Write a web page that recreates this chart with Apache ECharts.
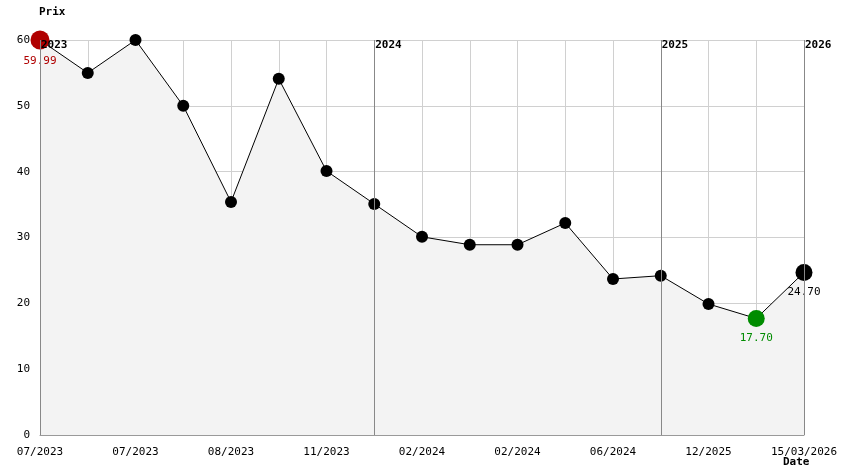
<!DOCTYPE html>
<html>
<head>
<meta charset="utf-8">
<script src="https://cdn.jsdelivr.net/npm/echarts@6/dist/echarts.min.js"></script>
<style>html,body{margin:0;padding:0;background:#fff}#chart{width:844px;height:474px}</style>
</head>
<body>
<div id="chart"></div>
<script>
const dates = ['07/2023', '', '07/2023', '', '08/2023', '', '11/2023', '', '02/2024', '', '02/2024', '', '06/2024', '', '12/2025', '', '15/03/2026']
const prices = [59.99, 55, 60, 50, 35.4, 54.1, 40.1, 35.1, 30.1, 28.9, 28.9, 32.2, 23.7, 24.2, 19.9, 17.7, 24.7]
const yearMarks = [{ idx: 0, label: '2023' }, { idx: 7, label: '2024' }, { idx: 13, label: '2025' }, { idx: 16, label: '2026' }]
const yTicks = [0, 10, 20, 30, 40, 50, 60]

const font = 'DejaVu Sans Mono'
const minIdx = 15, maxIdx = 0, lastIdx = prices.length - 1

const data = prices.map((v, i) => {
    if (i === maxIdx) return { value: v, symbolSize: 19, itemStyle: { color: '#b00000' },
        label: { show: true, position: 'bottom', formatter: '59.99', color: '#b00000' } }
    if (i === minIdx) return { value: v, symbolSize: 17, itemStyle: { color: '#008c00' },
        label: { show: true, position: 'bottom', formatter: '17.70', color: '#008c00' } }
    if (i === lastIdx) return { value: v, symbolSize: 17,
        label: { show: true, position: 'bottom', formatter: '24.70', color: '#000' } }
    return v
})

const chart = echarts.init(document.getElementById('chart'))
chart.setOption({
    animation: false,
    textStyle: { fontFamily: font },
    grid: { left: 40, right: 40, top: 40, bottom: 39 },
    xAxis: {
        type: 'category', data: dates, boundaryGap: false,
        axisLine: { lineStyle: { color: '#999' } },
        axisTick: { show: false },
        axisLabel: { interval: 0, color: '#000', fontSize: 11, fontFamily: font, margin: 12 },
        splitLine: { show: true, interval: 0, lineStyle: { color: '#d0d0d0' } }
    },
    yAxis: {
        type: 'value', min: yTicks[0], max: yTicks[yTicks.length - 1], interval: 10,
        axisLine: { show: true, lineStyle: { color: '#999' } },
        axisTick: { show: false },
        axisLabel: { color: '#000', fontSize: 11, fontFamily: font, margin: 10 },
        splitLine: { lineStyle: { color: '#d0d0d0' } }
    },
    series: [{
        type: 'line', data: data,
        symbol: 'circle', symbolSize: 12,
        itemStyle: { color: '#000' },
        lineStyle: { color: '#000', width: 1 },
        areaStyle: { color: '#f3f3f3', opacity: 1 },
        label: { fontSize: 11, fontFamily: font, distance: 6 },
        markLine: {
            silent: true, symbol: 'none',
            lineStyle: { color: '#888', type: 'solid', width: 1 },
            label: { show: true, position: 'insideEndTop', rotate: 0, fontWeight: 'bold',
                color: '#000', fontSize: 11, fontFamily: font, align: 'left', offset: [6, 16] },
            data: yearMarks.map(m => ({ xAxis: m.idx, label: { formatter: m.label } }))
        },
        z: 3
    }],
    graphic: [
        { type: 'text', left: 39, top: 7, style: { text: 'Prix', font: 'bold 11px ' + font, fill: '#000' } },
        { type: 'text', left: 783, top: 457, style: { text: 'Date', font: 'bold 11px ' + font, fill: '#000' } },
        { type: 'text', left: 50, top: 380, style: { text: 'Initial : 59.99', font: '11px ' + font, fill: '#000' } },
        { type: 'text', left: 50, top: 394, style: { text: 'Mini : 17.70', font: '11px ' + font, fill: '#008c00' } },
        { type: 'text', left: 50, top: 408, style: { text: 'Max : 59.99', font: '11px ' + font, fill: '#d00000' } },
        { type: 'text', left: 50, top: 422, style: { text: 'Actuel : 24.70', font: '11px ' + font, fill: '#000' } }
    ]
})
</script>
</body>
</html>
